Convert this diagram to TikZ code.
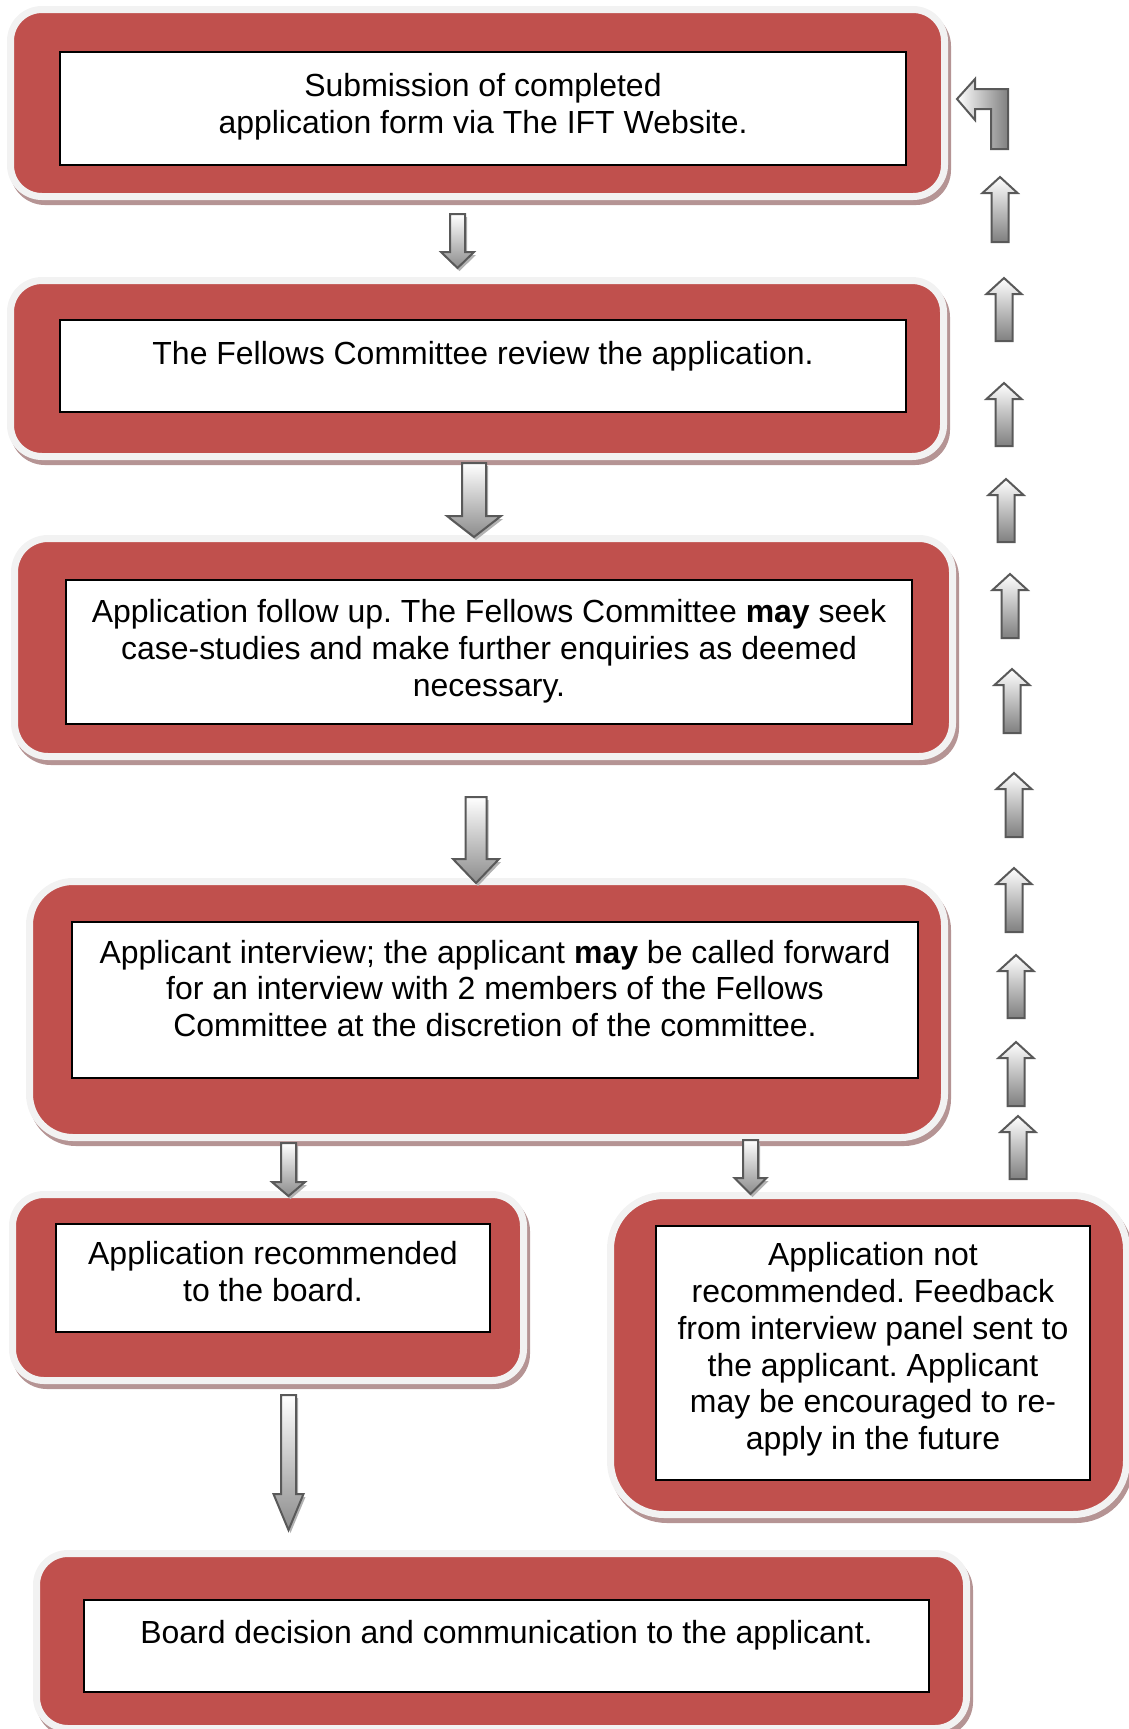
\documentclass[tikz,border=0pt]{standalone}
\usepackage{fontspec}
\setmainfont{Liberation Sans}
\usepackage{xcolor}
\usepackage{tikz}
\usetikzlibrary{calc, positioning}
\frenchspacing

\newdimen\pxu \pxu=0.02cm

\definecolor{boxred}{HTML}{C0504D}
\definecolor{halo}{HTML}{F2F2F2}
\definecolor{boxshadow}{HTML}{B59494}
\definecolor{arrowline}{HTML}{595959}

% block arrow: style, tail, tip, half shaft, half head, head offset
\newcommand{\blockarrow}[6]{%
  \path[#1] ($(#2)+(-#4,0)$) -- ($(#3)+(-#4,#6)$) -- ($(#3)+(-#5,#6)$) -- (#3)
    -- ($(#3)+(#5,#6)$) -- ($(#3)+(#4,#6)$) -- ($(#2)+(#4,0)$) -- cycle;}

\begin{document}
\begin{tikzpicture}[x=0.02cm, y=-0.02cm]
\tikzstyle{redbox} = [rectangle, inner sep=0pt, draw=halo, line width=7\pxu, fill=boxred, rounded corners=31.5\pxu, preaction={draw=boxshadow, fill=boxshadow, line width=7\pxu, transform canvas={shift={(3\pxu,-5\pxu)}}}]
\tikzstyle{framebox} = [rectangle, inner sep=0pt, draw=black, line width=2\pxu, fill=white]
\tikzstyle{txt} = [align=center, inner sep=0pt, font=\fontsize{18.2pt}{20.9pt}\selectfont]
\tikzstyle{downarrow} = [draw=arrowline, line width=2\pxu, top color=white, bottom color=black!45, preaction={fill=black!30, transform canvas={shift={(2\pxu,-3\pxu)}}}]
\tikzstyle{uparrow} = [draw=arrowline, line width=2\pxu, top color=white, bottom color=black!50]
\tikzstyle{bentarrow} = [draw=arrowline, line width=2\pxu, left color=white, right color=black!50]

\useasboundingbox (0,0) rectangle (1129,1729);

% steps
\node (submit) [redbox, minimum width=934\pxu, minimum height=187\pxu] at (477.5,103) {};
\node (submitframe) [framebox, minimum width=846\pxu, minimum height=113\pxu] at (483,108.5) {};
\node (submittext) [txt] at (483,107) {Submission of completed\\application form via The IFT Website.};

\node (review) [redbox, minimum width=933\pxu, minimum height=176\pxu] at (477,368.5) {};
\node (reviewframe) [framebox, minimum width=846\pxu, minimum height=92\pxu] at (483,366) {};
\node (reviewtext) [txt] at (483,356) {The Fellows Committee review the application.};

\node (followup) [redbox, rounded corners=33.5\pxu, minimum width=938\pxu, minimum height=218\pxu] at (483.5,647.5) {};
\node (followupframe) [framebox, minimum width=846\pxu, minimum height=144\pxu] at (489,652) {};
\node (followuptext) [txt] at (489,651) {Application follow up. The Fellows Committee \textbf{may} seek\\case-studies and make further enquiries as deemed\\necessary.};

\node (interview) [redbox, rounded corners=43.5\pxu, minimum width=915\pxu, minimum height=256\pxu] at (487,1009.5) {};
\node (interviewframe) [framebox, minimum width=846\pxu, minimum height=156\pxu] at (495,1000) {};
\node (interviewtext) [txt] at (495,988.5) {Applicant interview; the applicant \textbf{may} be called forward\\for an interview with 2 members of the Fellows\\Committee at the discretion of the committee.};

\node (recommend) [redbox, minimum width=511\pxu, minimum height=186\pxu] at (268,1287.5) {};
\node (recommendframe) [framebox, minimum width=434\pxu, minimum height=108\pxu] at (273,1278) {};
\node (recommendtext) [txt] at (273,1271.5) {Application recommended\\to the board.};

\node (notrec) [redbox, rounded corners=53.5\pxu, minimum width=516\pxu, minimum height=319\pxu] at (868.5,1355) {};
\node (notrecframe) [framebox, minimum width=434\pxu, minimum height=254\pxu] at (873,1353) {};
\node (notrectext) [txt] at (873,1349.5) {Application not\\recommended. Feedback\\from interview panel sent to\\the applicant. Applicant\\may be encouraged to re-\\apply in the future};

\node (decision) [redbox, minimum width=930\pxu, minimum height=175\pxu] at (501.5,1641) {};
\node (decisionframe) [framebox, minimum width=845\pxu, minimum height=92\pxu] at (506.5,1646) {};
\node (decisiontext) [txt] at (506.5,1635) {Board decision and communication to the applicant.};

% arrows between the steps
\coordinate (a1s) at (457.5,214);  \coordinate (a1e) at (457.5,268);
\coordinate (a2s) at (474,463);    \coordinate (a2e) at (474,537);
\coordinate (a3s) at (476,797);    \coordinate (a3e) at (476,883);
\coordinate (a4s) at (288.5,1143); \coordinate (a4e) at (288.5,1196);
\coordinate (a5s) at (750.5,1140); \coordinate (a5e) at (750.5,1194);
\coordinate (a6s) at (288.5,1395); \coordinate (a6e) at (288.5,1530);

\blockarrow{downarrow}{a1s}{a1e}{7.5}{16.5}{-16}
\blockarrow{downarrow}{a2s}{a2e}{12}{27}{-21}
\blockarrow{downarrow}{a3s}{a3e}{10.5}{23}{-24}
\blockarrow{downarrow}{a4s}{a4e}{7.5}{16.5}{-14}
\blockarrow{downarrow}{a5s}{a5e}{7.5}{16}{-16}
\blockarrow{downarrow}{a6s}{a6e}{7.5}{15}{-36}

% return path on the right
\foreach \ux/\utop/\ubot [count=\i] in {1000/177/242, 1004/278/341, 1004/383/446, 1006/479/542, 1010/574/638, 1012/669/733, 1014/773/837, 1014/868/932, 1016/955/1018, 1016/1042/1106, 1018/1116/1179} {
  \coordinate (up\i s) at (\ux,\ubot);
  \coordinate (up\i e) at (\ux,\utop);
  \blockarrow{uparrow}{up\i s}{up\i e}{8.5}{17.5}{16}
}
\path[bentarrow] (957,99) -- (975,79) -- (975,89) -- (1008,89) -- (1008,149) -- (991,149)
  -- (991,109) -- (975,109) -- (975,120) -- cycle;
\end{tikzpicture}
\end{document}
